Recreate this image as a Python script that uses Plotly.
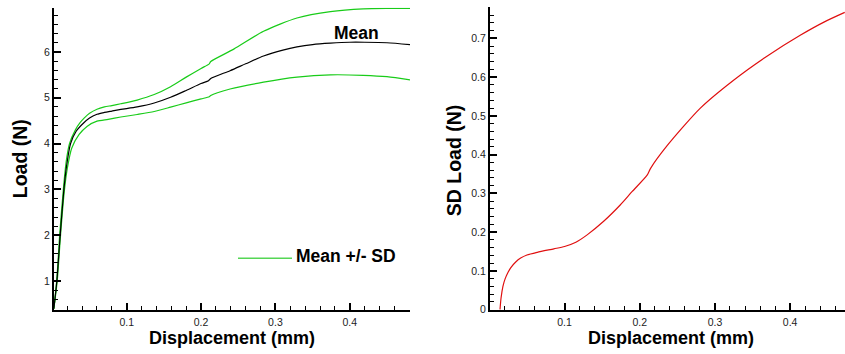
import plotly.graph_objects as go

# ---- data ----
disp_mean = [0.002, 0.006, 0.0105, 0.0155, 0.019, 0.0245, 0.032, 0.042, 0.050, 0.060, 0.070,
             0.080, 0.092, 0.114, 0.137, 0.159, 0.180, 0.200, 0.210, 0.213, 0.239, 0.260,
             0.284, 0.310, 0.329, 0.350, 0.374, 0.400, 0.420, 0.450, 0.481]
load_mean = [0.40, 1.00, 2.00, 3.00, 3.50, 4.00, 4.27, 4.45, 4.56, 4.64, 4.68,
             4.71, 4.745, 4.80, 4.885, 5.01, 5.16, 5.31, 5.37, 5.42, 5.59, 5.74,
             5.91, 6.04, 6.11, 6.16, 6.19, 6.21, 6.21, 6.20, 6.16]

disp_upper = [0.002, 0.006, 0.010, 0.015, 0.0185, 0.023, 0.031, 0.037, 0.043, 0.050, 0.060,
              0.070, 0.080, 0.092, 0.114, 0.137, 0.159, 0.180, 0.200, 0.211, 0.213, 0.244,
              0.284, 0.329, 0.374, 0.418, 0.450, 0.481]
load_upper = [0.40, 1.05, 2.05, 3.05, 3.60, 4.00, 4.30, 4.45, 4.56, 4.66, 4.75,
              4.80, 4.83, 4.87, 4.95, 5.07, 5.24, 5.45, 5.64, 5.74, 5.79, 6.06,
              6.45, 6.74, 6.88, 6.94, 6.95, 6.95]

disp_lower = [0.002, 0.0065, 0.011, 0.016, 0.020, 0.026, 0.036, 0.047, 0.060, 0.075, 0.092,
              0.114, 0.137, 0.159, 0.180, 0.200, 0.211, 0.213, 0.239, 0.284, 0.329, 0.374,
              0.418, 0.450, 0.481]
load_lower = [0.40, 1.00, 2.00, 2.95, 3.45, 3.90, 4.20, 4.38, 4.49, 4.53, 4.58,
              4.635, 4.70, 4.795, 4.89, 4.975, 5.02, 5.05, 5.19, 5.34, 5.45, 5.50,
              5.49, 5.46, 5.39]

disp_sd = [0.0141, 0.0155, 0.018, 0.021, 0.025, 0.0283, 0.035, 0.0416, 0.050, 0.0637, 0.0858,
           0.100, 0.115, 0.130, 0.152, 0.174, 0.190, 0.2098, 0.2142, 0.2364, 0.2806, 0.3248,
           0.3692, 0.4134, 0.445, 0.4727]
load_sd = [0.000, 0.030, 0.060, 0.080, 0.097, 0.108, 0.123, 0.133, 0.141, 0.148, 0.157,
           0.163, 0.174, 0.193, 0.228, 0.270, 0.305, 0.347, 0.364, 0.423, 0.520, 0.592,
           0.654, 0.708, 0.742, 0.767]

W, H = 845, 354
GREEN = "#19cc19"
RED = "#e01010"
FONT = "Liberation Sans, Arial, Helvetica, sans-serif"

fig = go.Figure()
common = dict(mode="lines", line_shape="spline")
fig.add_trace(go.Scatter(x=disp_upper, y=load_upper, **common,
                         line=dict(color=GREEN, width=1.2, smoothing=0.7), xaxis="x", yaxis="y"))
fig.add_trace(go.Scatter(x=disp_lower, y=load_lower, **common,
                         line=dict(color=GREEN, width=1.2, smoothing=0.7), xaxis="x", yaxis="y"))
fig.add_trace(go.Scatter(x=disp_mean, y=load_mean, **common,
                         line=dict(color="black", width=1.2, smoothing=0.7), xaxis="x", yaxis="y"))
fig.add_trace(go.Scatter(x=disp_sd, y=load_sd, **common,
                         line=dict(color=RED, width=1.2, smoothing=0.7), xaxis="x2", yaxis="y2"))

tickfont = dict(family=FONT, size=10.5, color="#222")


def xax(domain, rng, anchor):
    return dict(domain=domain, range=rng, anchor=anchor, showgrid=False, zeroline=False,
                showline=True, linecolor="black", linewidth=2, mirror=False,
                ticks="inside", ticklen=7, tickwidth=1.6, tickcolor="black",
                tick0=0, dtick=0.1, tickfont=tickfont, ticklabelstandoff=2,
                minor=dict(ticks="inside", ticklen=4, tickwidth=1.2, tickcolor="black",
                           dtick=0.02, tick0=0, showgrid=False))


def yax(domain, rng, anchor, dtick, mdtick):
    return dict(domain=domain, range=rng, anchor=anchor, showgrid=False, zeroline=False,
                showline=True, linecolor="black", linewidth=2, mirror=False,
                ticks="inside", ticklen=7, tickwidth=1.6, tickcolor="black",
                tick0=0, dtick=dtick, tickfont=tickfont,
                minor=dict(ticks="inside", ticklen=4, tickwidth=1.2, tickcolor="black",
                           dtick=mdtick, tick0=0, showgrid=False))


ydom_l = [(H - 315) / H, (H - 8) / H]
ydom_r = [(H - 315) / H, (H - 7.3) / H]
fig.update_layout(
    width=W, height=H, margin=dict(l=0, r=0, t=0, b=0),
    paper_bgcolor="white", plot_bgcolor="white", showlegend=False,
    xaxis=xax([54 / W, 410 / W], [0.0022, 0.481], "y"),
    yaxis=yax(ydom_l, [0.38, 6.96], "x", 1, 0.2),
    xaxis2=xax([490 / W, 1.0], [0.0008, 0.473], "y2"),
    yaxis2=yax(ydom_r, [0, 0.7805], "x2", 0.1, 0.02),
)

titlefont = dict(family=FONT, size=18, color="black")
ytitlefont = dict(family=FONT, size=19.5, color="black")
ann = [
    dict(text="<b>Displacement (mm)</b>", x=232 / W, y=1 - 344 / H, font=titlefont),
    dict(text="<b>Displacement (mm)</b>", x=671 / W, y=1 - 344 / H, font=titlefont),
    dict(text="<b>Load (N)</b>", x=20 / W, y=1 - 162 / H, textangle=-90, font=ytitlefont),
    dict(text="<b>SD Load (N)</b>", x=454 / W, y=1 - 163 / H, textangle=-90, font=ytitlefont),
    dict(text="<b>Mean +/- SD</b>", x=295 / W, y=1 - 260 / H, xanchor="left",
         font=dict(family=FONT, size=17.5, color="black")),
]
for a in ann:
    a.setdefault("xanchor", "center")
    fig.add_annotation(xref="paper", yref="paper", yanchor="middle", showarrow=False,
                       borderpad=0, **a)

fig.add_annotation(text="<b>Mean</b>", x=0.409, y=6.41, xref="x", yref="y", showarrow=False,
                   xanchor="center", yanchor="middle",
                   font=dict(family=FONT, size=17.5, color="black"))

fig.add_shape(type="line", xref="paper", yref="paper", x0=238 / W, x1=292 / W,
              y0=1 - 262.7 / H, y1=1 - 262.7 / H, line=dict(color="#55d655", width=1.3))

fig.write_html("out.html")
